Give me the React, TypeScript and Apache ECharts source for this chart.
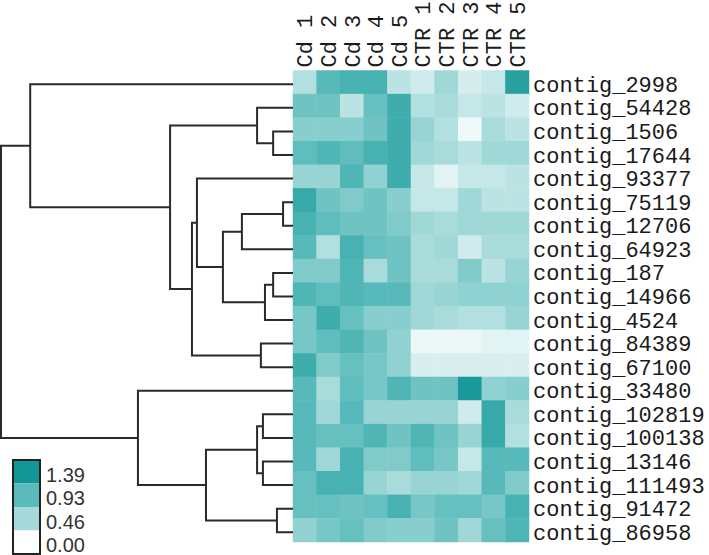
import React, { useEffect, useRef } from "react";
import * as echarts from "echarts";

const colLabels = ["Cd 1", "Cd 2", "Cd 3", "Cd 4", "Cd 5", "CTR 1", "CTR 2", "CTR 3", "CTR 4", "CTR 5"];

const rowLabels = [
  "contig_2998", "contig_54428", "contig_1506", "contig_17644", "contig_93377",
  "contig_75119", "contig_12706", "contig_64923", "contig_187", "contig_14966",
  "contig_4524", "contig_84389", "contig_67100", "contig_33480", "contig_102819",
  "contig_100138", "contig_13146", "contig_111493", "contig_91472", "contig_86958",
];

// one row per contig, columns Cd 1..5, CTR 1..5
const values: number[][] = [
  [0.40, 0.95, 1.05, 1.05, 0.35, 0.25, 0.50, 0.22, 0.30, 1.25],
  [0.80, 0.80, 0.35, 0.85, 1.10, 0.40, 0.45, 0.30, 0.35, 0.25],
  [0.65, 0.65, 0.65, 0.80, 1.10, 0.55, 0.40, 0.08, 0.45, 0.35],
  [0.90, 1.00, 0.90, 1.05, 1.10, 0.50, 0.45, 0.35, 0.50, 0.50],
  [0.55, 0.55, 1.00, 0.60, 1.10, 0.30, 0.15, 0.30, 0.30, 0.35],
  [1.15, 0.80, 0.70, 0.80, 0.65, 0.30, 0.30, 0.50, 0.35, 0.35],
  [1.05, 0.90, 0.80, 0.80, 0.70, 0.50, 0.45, 0.50, 0.50, 0.50],
  [0.95, 0.40, 1.05, 0.85, 0.80, 0.45, 0.50, 0.25, 0.45, 0.45],
  [0.70, 0.70, 1.00, 0.45, 0.80, 0.45, 0.45, 0.70, 0.35, 0.55],
  [1.00, 0.90, 1.00, 0.95, 0.95, 0.50, 0.55, 0.60, 0.60, 0.60],
  [0.75, 1.10, 0.85, 0.65, 0.65, 0.50, 0.45, 0.40, 0.40, 0.55],
  [0.75, 0.90, 1.00, 0.80, 0.60, 0.10, 0.10, 0.10, 0.15, 0.15],
  [1.10, 0.70, 0.85, 0.75, 0.60, 0.20, 0.20, 0.20, 0.20, 0.20],
  [0.95, 0.45, 0.90, 0.75, 1.00, 0.80, 0.80, 1.35, 0.60, 0.65],
  [0.95, 0.50, 0.95, 0.55, 0.55, 0.55, 0.55, 0.25, 1.15, 0.45],
  [0.95, 0.85, 0.85, 1.00, 0.80, 1.00, 0.80, 0.55, 1.15, 0.40],
  [0.95, 0.50, 1.05, 0.70, 0.70, 0.90, 0.75, 0.30, 0.95, 0.95],
  [0.85, 1.05, 1.05, 0.55, 0.45, 0.55, 0.55, 0.50, 0.95, 0.70],
  [0.85, 0.85, 0.80, 0.85, 1.05, 0.75, 0.85, 0.85, 0.75, 1.05],
  [0.60, 0.75, 0.85, 0.70, 0.65, 0.65, 0.80, 0.50, 0.85, 1.00],
];

// dendrogram merges: [childA, childB, height]; leaves are row indices 0..19, merge k creates node 20+k
const merges: [number, number, number][] = [
  [5, 6, 0.034],
  [18, 19, 0.055],
  [2, 3, 0.068],
  [8, 9, 0.068],
  [23, 10, 0.096],
  [14, 15, 0.103],
  [16, 17, 0.103],
  [11, 12, 0.11],
  [1, 22, 0.123],
  [25, 26, 0.123],
  [20, 7, 0.175],
  [30, 24, 0.24],
  [29, 21, 0.298],
  [4, 31, 0.329],
  [33, 27, 0.346],
  [28, 34, 0.421],
  [13, 32, 0.531],
  [0, 35, 0.9],
  [37, 36, 1.0],
];

const legendValues = ["1.39", "0.93", "0.46", "0.00"];
const scaleColors = ["#ffffff", "#a6dada", "#5bbbbb", "#139696"];
const valueMin = 0;
const valueMax = 1.39;

export default function App() {
  const ref = useRef<HTMLDivElement>(null);

  useEffect(() => {
    if (!ref.current) return;
    const chart = echarts.init(ref.current, null, { renderer: "svg" });

    const heatData: [number, number, number][] = [];
    values.forEach((row, r) => row.forEach((v, c) => heatData.push([c, r, v])));

    // node positions
    const nodeY: number[] = rowLabels.map((_, i) => i);
    const nodeH: number[] = rowLabels.map(() => 0);
    const dendroLines: { coords: [number, number][] }[] = [];
    merges.forEach(([a, b, h]) => {
      const ya = nodeY[a];
      const yb = nodeY[b];
      dendroLines.push({
        coords: [
          [nodeH[a], ya],
          [h, ya],
          [h, yb],
          [nodeH[b], yb],
        ],
      });
      nodeY.push((ya + yb) / 2);
      nodeH.push(h);
    });

    const gridTop = 70.5;
    const gridHeight = 471.5;
    const monoFont = "'Liberation Mono', 'Courier New', monospace";

    // legend graphic
    const lgX = 13;
    const lgTop = 460;
    const lgW = 27;
    const lgBlock = 23.5;
    const legendFills = [scaleColors[3], scaleColors[2], scaleColors[1], scaleColors[0]];
    const graphics: any[] = [];
    legendFills.forEach((col, i) => {
      graphics.push({
        type: "rect",
        shape: { x: lgX, y: lgTop + i * lgBlock, width: lgW, height: lgBlock },
        style: { fill: col },
        silent: true,
      });
    });
    graphics.push({
      type: "rect",
      shape: { x: lgX, y: lgTop, width: lgW, height: lgBlock * 4 },
      style: { fill: "none", stroke: "#222", lineWidth: 2 },
      silent: true,
    });
    legendValues.forEach((t, i) => {
      graphics.push({
        type: "text",
        x: 46,
        y: lgTop + i * lgBlock + lgBlock / 2 + 3,
        style: {
          text: t,
          fill: "#333",
          fontSize: 20,
          fontFamily: "'Liberation Sans', Arial, sans-serif",
          verticalAlign: "middle",
          align: "left",
        },
        silent: true,
      });
    });

    chart.setOption({
      animation: false,
      backgroundColor: "#ffffff",
      grid: [
        { left: 293, top: gridTop, width: 236, height: gridHeight },
        { left: 1, top: gridTop + 2, width: 292, height: gridHeight },
      ],
      xAxis: [
        {
          type: "category",
          gridIndex: 0,
          position: "top",
          data: colLabels,
          axisLine: { show: false },
          axisTick: { show: false },
          splitLine: { show: false },
          axisLabel: { show: false },
        },
        {
          type: "value",
          gridIndex: 1,
          min: 0,
          max: 1,
          inverse: true,
          show: false,
        },
      ],
      yAxis: [
        {
          type: "category",
          gridIndex: 0,
          position: "right",
          inverse: true,
          data: rowLabels,
          axisLine: { show: false },
          axisTick: { show: false },
          splitLine: { show: false },
          axisLabel: {
            interval: 0,
            margin: 4,
            color: "#1a1a1a",
            fontFamily: monoFont,
            fontSize: 22,
            verticalAlign: "top",
            lineHeight: 8,
          },
        },
        {
          type: "value",
          gridIndex: 1,
          min: -0.5,
          max: 19.5,
          inverse: true,
          show: false,
        },
      ],
      visualMap: {
        type: "continuous",
        show: false,
        min: valueMin,
        max: valueMax,
        seriesIndex: 0,
        inRange: { color: scaleColors },
      },
      series: [
        {
          type: "heatmap",
          xAxisIndex: 0,
          yAxisIndex: 0,
          data: heatData,
          itemStyle: { borderWidth: 0 },
          emphasis: { disabled: true },
          silent: true,
        },
        {
          type: "lines",
          coordinateSystem: "cartesian2d",
          xAxisIndex: 1,
          yAxisIndex: 1,
          polyline: true,
          silent: true,
          lineStyle: { color: "#2a2a2a", width: 2, opacity: 1 },
          data: dendroLines,
        },
      ],
      graphic: graphics,
    });

    // column labels, placed through the heatmap's x axis scale, rotated to read bottom-to-top
    const colTexts = colLabels.map((t, i) => {
      const px = chart.convertToPixel({ xAxisIndex: 0 }, i) as number;
      return {
        type: "text",
        x: px + 2,
        y: gridTop - 3,
        rotation: Math.PI / 2,
        style: {
          text: t,
          fill: "#1a1a1a",
          fontSize: 22,
          fontFamily: monoFont,
          align: "left",
          verticalAlign: "middle",
        },
        silent: true,
      };
    });
    chart.setOption({ graphic: [...graphics, ...colTexts] });

    return () => chart.dispose();
  }, []);

  return (
    <div
      ref={ref}
      style={{ position: "fixed", left: 0, top: 0, width: 709, height: 555 }}
    />
  );
}
